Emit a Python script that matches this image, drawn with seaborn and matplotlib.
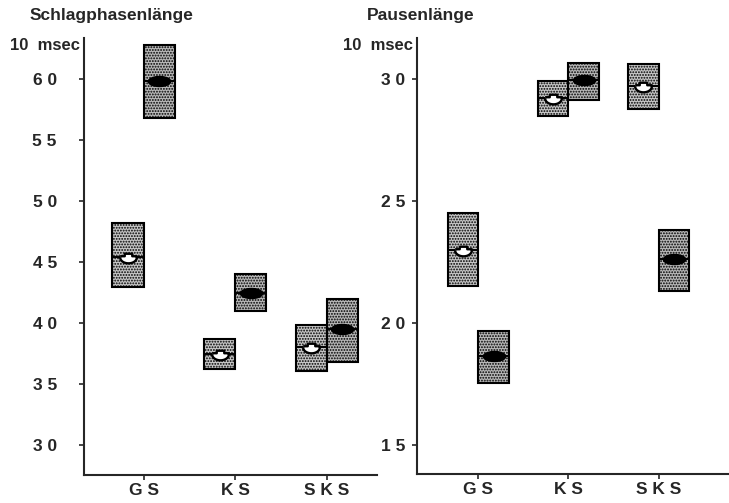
import numpy as np
import matplotlib
matplotlib.use('Agg')
import matplotlib.pyplot as plt
import seaborn as sns

# categories and the two series per category (open / filled marker)
categories = ['GS', 'KS', 'SKS']
x_labels = ['G S', 'K S', 'S K S']
series = ['offen', 'voll']

# Schlagphasenlänge in 10 msec: lower edge, mean, upper edge of each box
schlag_open_lo = [42.95, 36.2, 36.1]
schlag_open_mean = [45.4, 37.5, 38.0]
schlag_open_hi = [48.2, 38.7, 39.8]
schlag_full_lo = [56.8, 41.0, 36.8]
schlag_full_mean = [59.8, 42.5, 39.5]
schlag_full_hi = [62.8, 44.0, 42.0]

# Pausenlänge in 10 msec
pause_open_lo = [21.5, 28.5, 28.75]
pause_open_mean = [23.0, 29.2, 29.7]
pause_open_hi = [24.5, 29.9, 30.6]
pause_full_lo = [17.55, 29.15, 21.3]
pause_full_mean = [18.65, 29.95, 22.6]
pause_full_hi = [19.65, 30.65, 23.8]

schlag_ticks = [30, 35, 40, 45, 50, 55, 60]
pause_ticks = [15, 20, 25, 30]

sns.set_style('ticks')
plt.rcParams['font.family'] = ['Liberation Sans', 'DejaVu Sans']
plt.rcParams['hatch.linewidth'] = 0.9
plt.rcParams['hatch.color'] = '#2a2a2a'

box_width = 0.68
half = box_width / 4  # centre offset of each dodged box

t = np.linspace(0, 2 * np.pi, 50)
full_marker = np.column_stack([np.cos(t), 0.45 * np.sin(t)])
tc = np.linspace(np.pi, 2 * np.pi, 25)
open_marker = np.vstack([[[-1, 0.15], [-0.45, 0.15], [-0.45, 0.45], [0.45, 0.45], [0.45, 0.15], [1, 0.15]],
                         np.column_stack([np.cos(tc[::-1]), 0.7 * np.sin(tc[::-1])])])


def draw_panel(ax, open_vals, full_vals, ticks, ylim, xlim, title, title_x, ypad):
    pos = np.arange(len(categories))
    for name, (lo, mean, hi), face in [(series[0], open_vals, '#c6c6c6'),
                                       (series[1], full_vals, '#b8b8b8')]:
        lo = np.array(lo)
        hi = np.array(hi)
        off = -half if name == series[0] else half
        xs = pos + off
        ax.bar(xs, hi - lo, bottom=lo, width=2 * half, color=face, edgecolor='black',
               linewidth=1.5, hatch='......', zorder=3)
        ax.hlines(mean, xs - half, xs + half, color='black', lw=1.4, zorder=4)
        if name == series[0]:
            ax.plot(xs, mean, ls='none', marker=open_marker, ms=12, mfc='white',
                    mec='black', mew=1.7, zorder=5)
        else:
            ax.plot(xs, mean, ls='none', marker=full_marker, ms=16, color='black', zorder=5)

    ax.set_xlim(*xlim)
    ax.set_ylim(*ylim)
    ax.set_yticks(ticks)
    ax.set_yticklabels([' '.join(str(v)) for v in ticks], fontsize=12.5, fontweight='bold')
    ax.set_xticks(pos)
    ax.set_xticklabels(x_labels, fontsize=12.5, fontweight='bold')
    ax.tick_params(axis='y', length=3.6, width=1.2, pad=ypad)
    ax.tick_params(axis='x', length=3.6, width=1.2, pad=2)
    sns.despine(ax=ax)
    for s in ['left', 'bottom']:
        ax.spines[s].set_linewidth(1.5)
    ax.text(-0.012, 1.0, '10  msec', transform=ax.transAxes, ha='right', va='top',
            fontsize=12, fontweight='bold')
    ax.figure.text(title_x, 0.969, title, ha='left', va='center', fontsize=12.5, fontweight='bold')


fig = plt.figure(figsize=(7.29, 5.03), dpi=100)
ax1 = fig.add_axes([84 / 729, 28 / 503, 293 / 729, 437 / 503])
ax2 = fig.add_axes([417 / 729, 29 / 503, 312 / 729, 436 / 503])

draw_panel(ax1, (schlag_open_lo, schlag_open_mean, schlag_open_hi),
           (schlag_full_lo, schlag_full_mean, schlag_full_hi),
           schlag_ticks, (27.55, 63.35), (-0.65, 2.55), 'Schlagphasenlänge', 30 / 729, 16)
draw_panel(ax2, (pause_open_lo, pause_open_mean, pause_open_hi),
           (pause_full_lo, pause_full_mean, pause_full_hi),
           pause_ticks, (13.8, 31.68), (-0.68, 2.78), 'Pausenlänge', 367 / 729, 5)

fig.savefig('out.png', dpi=100)
